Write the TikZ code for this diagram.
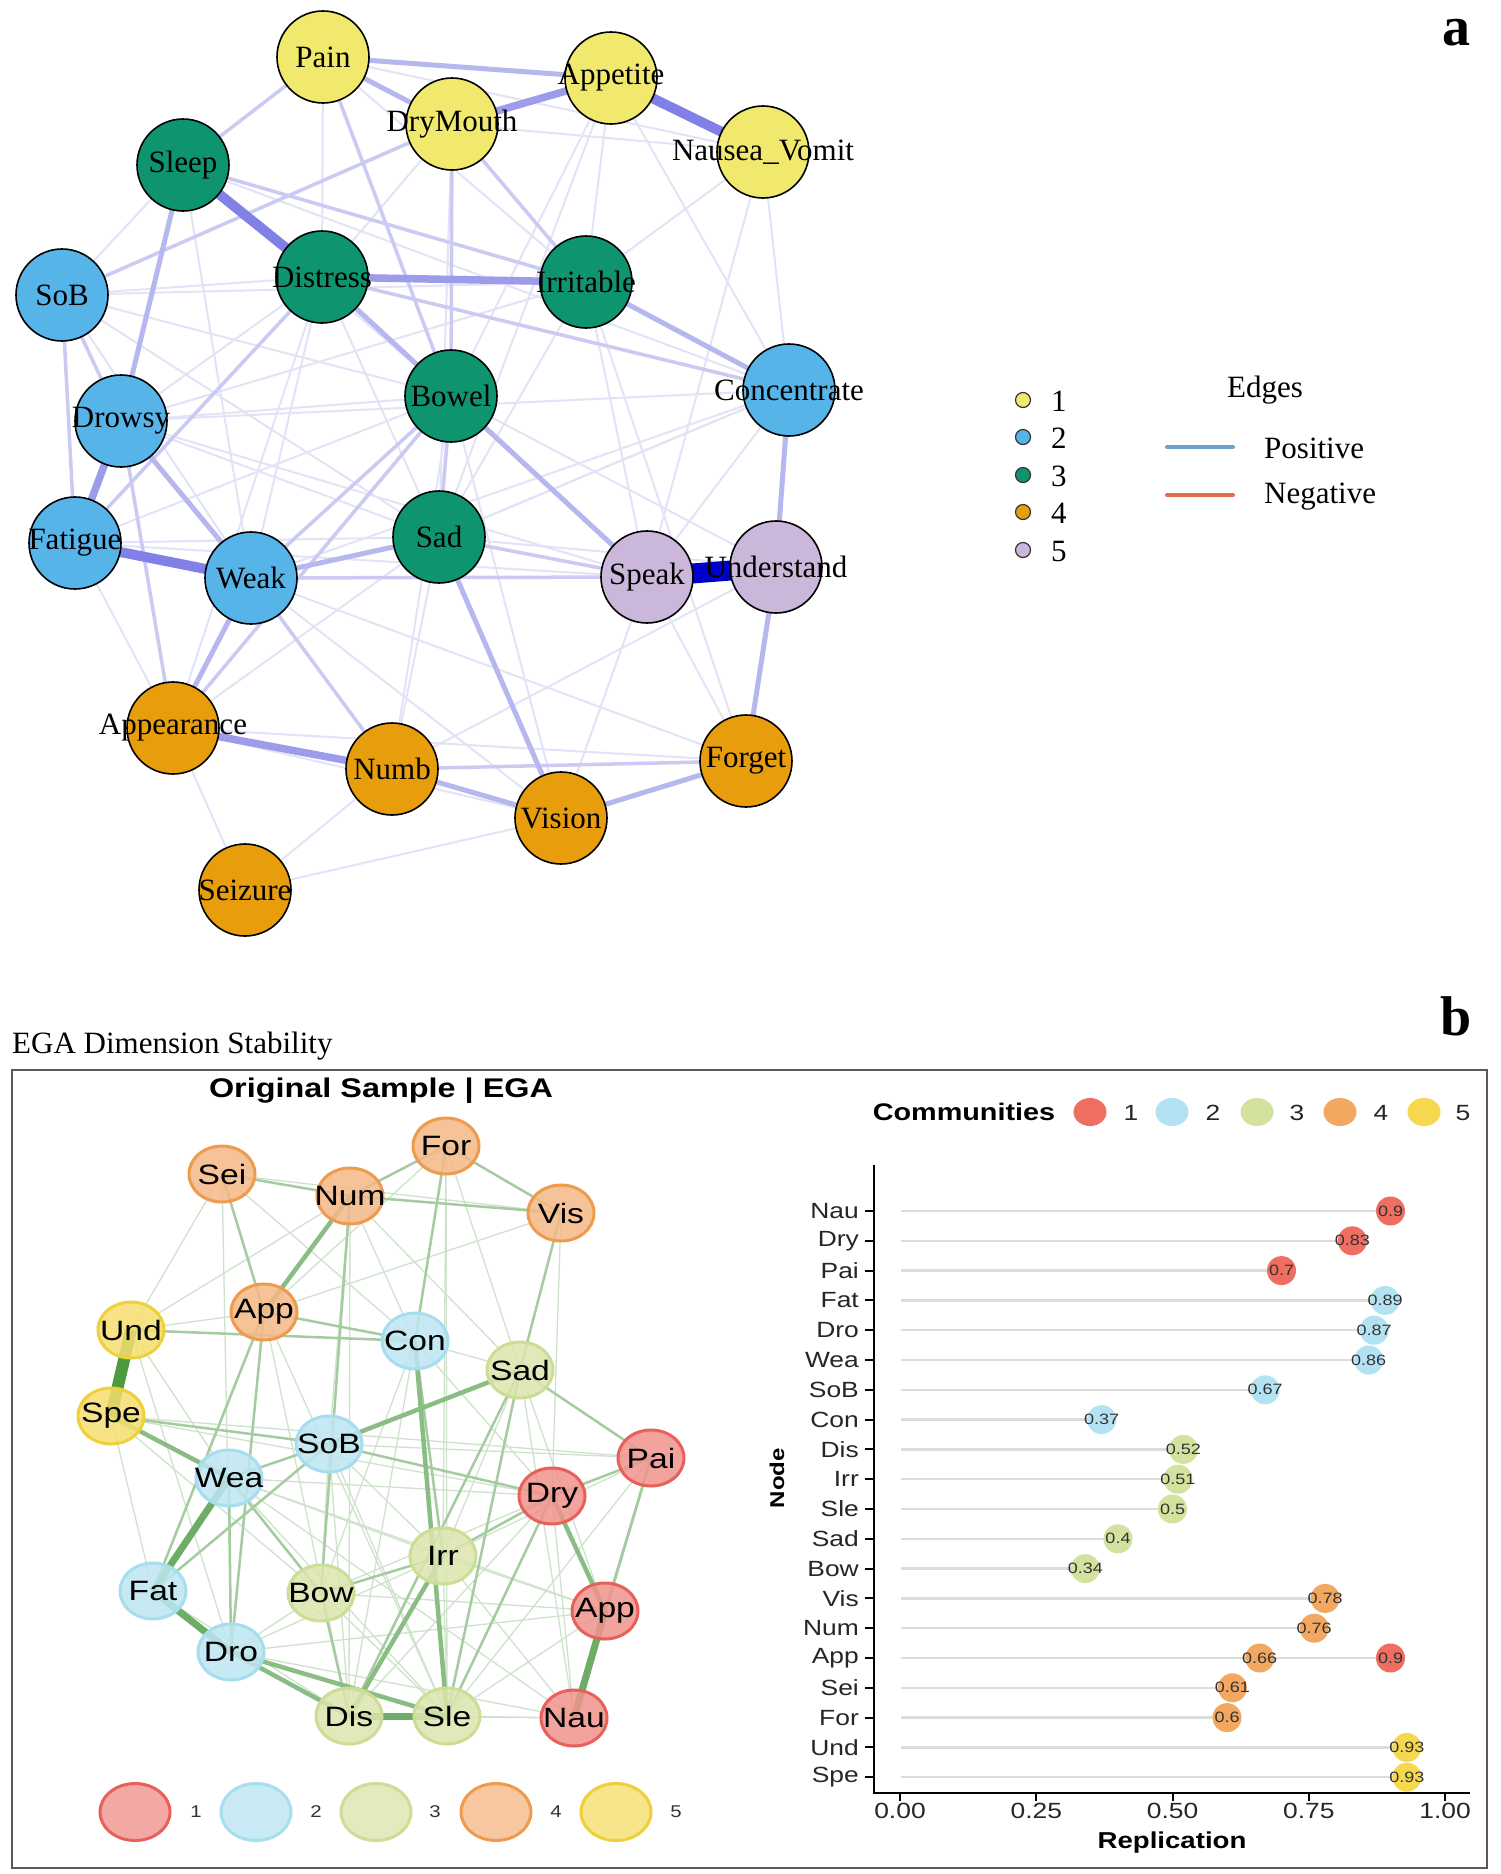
\documentclass[tikz,border=0pt]{standalone}
\usepackage{fontspec}
\setmainfont{Liberation Serif}
\newfontfamily\bsans[FakeStretch=1.2]{Liberation Sans}
\usetikzlibrary{shapes.geometric}
\pgfdeclarelayer{bg}
\pgfdeclarelayer{edges}
\pgfsetlayers{bg,edges,main}
\newcommand{\zw}[1]{\makebox[0pt][c]{#1}}
% panel a colours
\definecolor{aY}{HTML}{F1E96E}
\definecolor{aB}{HTML}{56B4E9}
\definecolor{aG}{HTML}{0F9470}
\definecolor{aO}{HTML}{E89E0C}
\definecolor{aP}{HTML}{CBB7DA}
\definecolor{eA1}{HTML}{E3E3F8}
\definecolor{eA2}{HTML}{CACAF3}
\definecolor{eA3}{HTML}{B7B7EF}
\definecolor{eA4}{HTML}{9C9CEB}
\definecolor{eA5}{HTML}{8080E6}
\definecolor{eAd}{HTML}{0000CD}
\definecolor{posc}{HTML}{6BA4C8}
\definecolor{negc}{HTML}{E07050}
% panel b colours
\definecolor{bRf}{HTML}{F2938C}\definecolor{bRd}{HTML}{E8605A}
\definecolor{bBf}{HTML}{BDE6F3}\definecolor{bBd}{HTML}{A6DEF0}
\definecolor{bGf}{HTML}{DCE6AE}\definecolor{bGd}{HTML}{CCDD95}
\definecolor{bOf}{HTML}{F5B987}\definecolor{bOd}{HTML}{EE9B4E}
\definecolor{bYf}{HTML}{F6DF70}\definecolor{bYd}{HTML}{EFD03A}
\definecolor{eB1}{HTML}{CFE3CC}
\definecolor{eB2}{HTML}{A5CCA0}
\definecolor{eB3}{HTML}{8ABD84}
\definecolor{eB4}{HTML}{6EAD66}
\definecolor{eB5}{HTML}{4E9A40}
\definecolor{dR}{HTML}{EE6E62}
\definecolor{dB}{HTML}{B3E3F3}
\definecolor{dG}{HTML}{D3E29E}
\definecolor{dO}{HTML}{F2A860}
\definecolor{dY}{HTML}{F6D84E}
\definecolor{gl}{HTML}{DCDCDC}
\begin{document}
\begin{tikzpicture}[x=1pt,y=-1pt,
  anode/.style={circle,draw=black,line width=1.6pt,minimum size=92pt,inner sep=0pt,font=\fontsize{31}{31}\selectfont},
  ea1/.style={draw=eA1,line width=2pt},
  ea2/.style={draw=eA2,line width=3.5pt},
  ea3/.style={draw=eA3,line width=5pt},
  ea4/.style={draw=eA4,line width=7.5pt},
  ea5/.style={draw=eA5,line width=10pt},
  eadk/.style={draw=eAd,line width=20pt},
  lgc/.style={circle,draw=black!80,line width=1.2pt,minimum size=15pt,inner sep=0pt},
  lgt/.style={inner sep=0pt,font=\fontsize{31}{31}\selectfont},
  bnode/.style={ellipse,minimum width=66pt,minimum height=56pt,inner sep=0pt,line width=3pt,fill opacity=0.85,text opacity=1,font=\bsans\fontsize{28}{28}\selectfont},
  bR/.style={bnode,fill=bRf,draw=bRd},
  bB/.style={bnode,fill=bBf,draw=bBd},
  bG/.style={bnode,fill=bGf,draw=bGd},
  bO/.style={bnode,fill=bOf,draw=bOd},
  bY/.style={bnode,fill=bYf,draw=bYd},
  eb1/.style={draw=eB1,line width=1.3pt},
  eb2/.style={draw=eB2,line width=2.5pt},
  eb3/.style={draw=eB3,line width=4.5pt},
  eb4/.style={draw=eB4,line width=7pt},
  eb5/.style={draw=eB5,line width=12pt},
  bleg/.style={ellipse,minimum width=70pt,minimum height=57pt,inner sep=0pt,line width=3pt,fill opacity=0.8},
  bnum/.style={inner sep=0pt,font=\bsans\fontsize{17}{17}\selectfont,text=black!80},
  cdot/.style={ellipse,minimum width=33pt,minimum height=28pt,inner sep=0pt},
  cnum/.style={inner sep=0pt,font=\bsans\fontsize{22}{22}\selectfont,text=black!85},
  dot/.style={circle,minimum size=29pt,inner sep=0pt,font=\bsans\fontsize{15}{15}\selectfont,text=black!80},
  rowl/.style={anchor=east,inner sep=0pt,font=\bsans\fontsize{22}{22}\selectfont,text=black!85},
  tickl/.style={inner sep=0pt,font=\bsans\fontsize{22}{22}\selectfont,text=black!85},
  axisl/.style={draw=black,line width=2pt},
  gline/.style={draw=gl,line width=2.5pt}
]
\useasboundingbox (0,0) rectangle (1500,1874);
\begin{pgfonlayer}{bg}
\fill[white] (0,0) rectangle (1500,1874);
\end{pgfonlayer}

% ================= panel a =================
\node[anode,fill=aY] (pain) at (323,57) {\zw{Pain}};
\node[anode,fill=aY] (drym) at (452,124) {\zw{DryMouth}};
\node[anode,fill=aY] (appe) at (611,78) {\zw{Appetite}};
\node[anode,fill=aY] (naus) at (763,152) {\zw{Nausea\_Vomit}};
\node[anode,fill=aG] (slee) at (183,165) {\zw{Sleep}};
\node[anode,fill=aG] (dist) at (322,277) {\zw{Distress}};
\node[anode,fill=aG] (irri) at (586,282) {\zw{Irritable}};
\node[anode,fill=aB] (sob)  at (62,295) {\zw{SoB}};
\node[anode,fill=aB] (conc) at (789,390) {\zw{Concentrate}};
\node[anode,fill=aG] (bowe) at (451,396) {\zw{Bowel}};
\node[anode,fill=aB] (drow) at (121,421) {\zw{Drowsy}};
\node[anode,fill=aB] (fati) at (75,543) {\zw{Fatigue}};
\node[anode,fill=aB] (weak) at (251,578) {\zw{Weak}};
\node[anode,fill=aG] (sad)  at (439,537) {\zw{Sad}};
\node[anode,fill=aP] (spea) at (647,577) {\zw{Speak}};
\node[anode,fill=aP] (unde) at (776,567) {\zw{Understand}};
\node[anode,fill=aO] (appr) at (173,728) {\zw{Appearance}};
\node[anode,fill=aO] (numb) at (392,769) {\zw{Numb}};
\node[anode,fill=aO] (visi) at (561,818) {\zw{Vision}};
\node[anode,fill=aO] (forg) at (746,761) {\zw{Forget}};
\node[anode,fill=aO] (seiz) at (245,890) {\zw{Seizure}};

\begin{pgfonlayer}{edges}
\foreach \a/\b in {pain/naus,drym/naus,appe/irri,appe/conc,naus/conc,naus/irri,slee/sob,sob/dist,sob/irri,sob/weak,drow/bowe,drow/sad,drow/spea,fati/sad,fati/bowe,fati/appr,weak/forg,weak/visi,sad/unde,sad/conc,irri/spea,irri/sad,irri/forg,conc/weak,conc/spea,spea/forg,spea/visi,seiz/appr,seiz/numb,seiz/visi,bowe/visi,bowe/numb,drym/sad,appe/sad,unde/numb,appr/forg,dist/sad,dist/weak,dist/appr,pain/dist,slee/bowe,slee/conc,slee/weak,drow/conc,drow/irri,fati/spea,sob/sad,pain/irri,appe/bowe,naus/spea,drym/dist,appr/sad,appr/visi,numb/sad,conc/sad,bowe/unde,drow/dist,sob/bowe}
  \draw[ea1] (\a.center) -- (\b.center);
\foreach \a/\b in {slee/pain,sob/drym,drym/irri,sob/fati,sob/drow,weak/numb,weak/bowe,fati/dist,pain/bowe,drym/bowe,bowe/sad,weak/spea,numb/forg,slee/irri,dist/conc,bowe/appr,sad/spea,drow/appr}
  \draw[ea2] (\a.center) -- (\b.center);
\foreach \a/\b in {irri/conc,sad/visi,pain/appe,pain/drym,dist/bowe,visi/forg,numb/visi,weak/sad,conc/unde,unde/forg,slee/drow,bowe/spea,weak/appr,drow/weak}
  \draw[ea3] (\a.center) -- (\b.center);
\foreach \a/\b in {appe/drym,drow/fati,dist/irri,appr/numb}
  \draw[ea4] (\a.center) -- (\b.center);
\foreach \a/\b in {fati/weak,appe/naus,slee/dist}
  \draw[ea5] (\a.center) -- (\b.center);
\draw[eadk] (spea.center) -- (unde.center);
\end{pgfonlayer}

% legend a
\node[lgc,fill=aY] (lc1) at (1023,400) {};
\node[lgc,fill=aB] (lc2) at (1023,437) {};
\node[lgc,fill=aG] (lc3) at (1023,475) {};
\node[lgc,fill=aO] (lc4) at (1023,512) {};
\node[lgc,fill=aP] (lc5) at (1023,550) {};
\node[lgt,anchor=west] (lt1) at (1051,401) {1};
\node[lgt,anchor=west] (lt2) at (1051,438) {2};
\node[lgt,anchor=west] (lt3) at (1051,476) {3};
\node[lgt,anchor=west] (lt4) at (1051,513) {4};
\node[lgt,anchor=west] (lt5) at (1051,551) {5};
\node[lgt] (edt) at (1265,390) {Edges};
\coordinate (pa1) at (1167,447); \coordinate (pa2) at (1233,447);
\coordinate (na1) at (1167,495); \coordinate (na2) at (1233,495);
\draw[draw=posc,line width=4pt,line cap=round] (pa1) -- (pa2);
\draw[draw=negc,line width=4pt,line cap=round] (na1) -- (na2);
\node[lgt,anchor=west] (post) at (1264,448) {Positive};
\node[lgt,anchor=west] (negt) at (1264,497) {Negative};

\node[font=\bfseries\fontsize{56}{56}\selectfont,inner sep=0pt] (la) at (1456,33) {a};
\node[font=\bfseries\fontsize{56}{56}\selectfont,inner sep=0pt] (lb) at (1456,1016) {b};

% ================= panel b =================
\node[lgt,anchor=west] (egat) at (12,1046) {EGA Dimension Stability};
\draw[draw=black!65,line width=2pt] (12,1070) rectangle (1487,1868);
\node[inner sep=0pt,font=\bsans\bfseries\fontsize{27}{27}\selectfont] (ost) at (381,1091) {Original Sample | EGA};

\node[bO] (bFor) at (446,1146) {\zw{For}};
\node[bO] (bSei) at (222,1174) {\zw{Sei}};
\node[bO] (bNum) at (350,1196) {\zw{Num}};
\node[bO] (bVis) at (561,1213) {\zw{Vis}};
\node[bO] (bAppO) at (264,1312) {\zw{App}};
\node[bY] (bUnd) at (131,1330) {\zw{Und}};
\node[bB] (bCon) at (415,1341) {\zw{Con}};
\node[bG] (bSad) at (520,1370) {\zw{Sad}};
\node[bY] (bSpe) at (111,1416) {\zw{Spe}};
\node[bB] (bSoB) at (329,1444) {\zw{SoB}};
\node[bR] (bPai) at (651,1458) {\zw{Pai}};
\node[bB] (bWea) at (229,1478) {\zw{Wea}};
\node[bR] (bDry) at (552,1496) {\zw{Dry}};
\node[bG] (bIrr) at (443,1556) {\zw{Irr}};
\node[bB] (bFat) at (153,1591) {\zw{Fat}};
\node[bG] (bBow) at (321,1593) {\zw{Bow}};
\node[bR] (bAppR) at (605,1611) {\zw{App}};
\node[bB] (bDro) at (231,1652) {\zw{Dro}};
\node[bG] (bDis) at (349,1716) {\zw{Dis}};
\node[bG] (bSle) at (447,1716) {\zw{Sle}};
\node[bR] (bNau) at (574,1718) {\zw{Nau}};

\begin{pgfonlayer}{edges}
\foreach \a/\b in {bSei/bUnd,bSei/bCon,bSei/bVis,bNum/bCon,bNum/bSad,bNum/bSoB,bNum/bUnd,bFor/bSad,bFor/bIrr,bFor/bAppO,bVis/bAppO,bVis/bSad,bVis/bDry,bUnd/bWea,bUnd/bDro,bUnd/bAppO,bSpe/bFat,bSpe/bBow,bSpe/bPai,bSpe/bDry,bCon/bSad,bCon/bDry,bCon/bBow,bCon/bDis,bSad/bIrr,bSad/bNau,bSad/bAppR,bSoB/bPai,bSoB/bIrr,bSoB/bBow,bSoB/bDis,bSoB/bSle,bWea/bIrr,bWea/bDry,bWea/bAppR,bWea/bNau,bWea/bSle,bDry/bBow,bDry/bDis,bDry/bNau,bIrr/bSle,bIrr/bAppR,bIrr/bNau,bIrr/bDro,bFat/bDis,bFat/bAppO,bBow/bAppR,bBow/bSle,bBow/bDro,bDro/bAppR,bDro/bNau,bSle/bNau,bSle/bAppR,bPai/bSle,bPai/bIrr,bDis/bNau,bAppO/bSle,bAppO/bDis,bSei/bDro,bNum/bDis,bFor/bSle}
  \draw[eb1] (\a.center) -- (\b.center);
\foreach \a/\b in {bSad/bPai,bSad/bVis,bFor/bVis,bFor/bNum,bNum/bVis,bSei/bNum,bUnd/bCon,bDry/bIrr,bDry/bPai,bSoB/bDry,bWea/bBow,bBow/bDis,bWea/bDro,bAppO/bDro,bSei/bAppO,bPai/bNau,bWea/bSoB,bIrr/bBow,bAppO/bCon,bFor/bCon,bSpe/bSoB,bSad/bDis,bDry/bSle,bAppO/bFat,bNum/bBow,bSoB/bFat,bSad/bSle,bPai/bAppR,bCon/bIrr}
  \draw[eb2] (\a.center) -- (\b.center);
\foreach \a/\b in {bDry/bAppR,bDis/bIrr,bNum/bAppO,bDro/bSle,bSoB/bSad,bCon/bSle,bDro/bDis,bSpe/bWea}
  \draw[eb3] (\a.center) -- (\b.center);
\foreach \a/\b in {bAppR/bNau,bDis/bSle,bFat/bDro,bFat/bWea}
  \draw[eb4] (\a.center) -- (\b.center);
\draw[eb5] (bUnd.center) -- (bSpe.center);
\end{pgfonlayer}

% bottom legend
\node[bleg,fill=bRf,draw=bRd] (bl1) at (135,1812) {};
\node[bleg,fill=bBf,draw=bBd] (bl2) at (256,1812) {};
\node[bleg,fill=bGf,draw=bGd] (bl3) at (376,1812) {};
\node[bleg,fill=bOf,draw=bOd] (bl4) at (496,1812) {};
\node[bleg,fill=bYf,draw=bYd] (bl5) at (616,1812) {};
\node[bnum] (bn1) at (196,1812) {1};
\node[bnum] (bn2) at (316,1812) {2};
\node[bnum] (bn3) at (435,1812) {3};
\node[bnum] (bn4) at (556,1812) {4};
\node[bnum] (bn5) at (676,1812) {5};

% communities legend
\node[inner sep=0pt,font=\bsans\bfseries\fontsize{24}{24}\selectfont] (comm) at (964,1112) {Communities};
\node[cdot,fill=dR] (cd1) at (1090,1112) {};
\node[cdot,fill=dB] (cd2) at (1172,1112) {};
\node[cdot,fill=dG] (cd3) at (1257,1112) {};
\node[cdot,fill=dO] (cd4) at (1340,1112) {};
\node[cdot,fill=dY] (cd5) at (1424,1112) {};
\node[cnum] (cn1) at (1131,1113) {1};
\node[cnum] (cn2) at (1213,1113) {2};
\node[cnum] (cn3) at (1297,1113) {3};
\node[cnum] (cn4) at (1381,1113) {4};
\node[cnum] (cn5) at (1463,1113) {5};

% dot plot
\foreach \lab/\val/\col [count=\i from 0] in {Nau/0.9/dR,Dry/0.83/dR,Pai/0.7/dR,Fat/0.89/dB,Dro/0.87/dB,Wea/0.86/dB,SoB/0.67/dB,Con/0.37/dB,Dis/0.52/dG,Irr/0.51/dG,Sle/0.5/dG,Sad/0.4/dG,Bow/0.34/dG,Vis/0.78/dO,Num/0.76/dO,App/0.9/dR,Sei/0.61/dO,For/0.6/dO,Und/0.93/dY,Spe/0.93/dY}{
  \coordinate (g\i) at (901,{1211+\i*29.8});
  \coordinate (p\i) at ({900+\val*545},{1211+\i*29.8});
  \draw[gline] (g\i) -- (p\i);
  \node[dot,fill=\col] (d\i) at (p\i) {\zw{\val}};
  \node[rowl] (r\i) at (859,{1211+\i*29.8}) {\lab};
  \draw[axisl] (865,{1211+\i*29.8}) -- (874,{1211+\i*29.8});
}
\node[dot,fill=dO] (d15b) at ({900+0.66*545},{1211+15*29.8}) {\zw{0.66}};
\draw[axisl] (874,1165) -- (874,1793) -- (1470,1793);
\foreach \v/\t [count=\k] in {0/0.00,0.25/0.25,0.5/0.50,0.75/0.75,1/1.00}{
  \draw[axisl] ({900+\v*545},1793) -- ({900+\v*545},1801);
  \node[tickl] (xt\k) at ({900+\v*545},1811) {\t};
}
\node[inner sep=0pt,font=\bsans\bfseries\fontsize{23}{23}\selectfont] (repl) at (1172,1843) {Replication};
\node[inner sep=0pt,rotate=90,font=\bsans\bfseries\fontsize{20}{20}\selectfont] (nodel) at (777,1478) {Node};
\end{tikzpicture}
\end{document}
